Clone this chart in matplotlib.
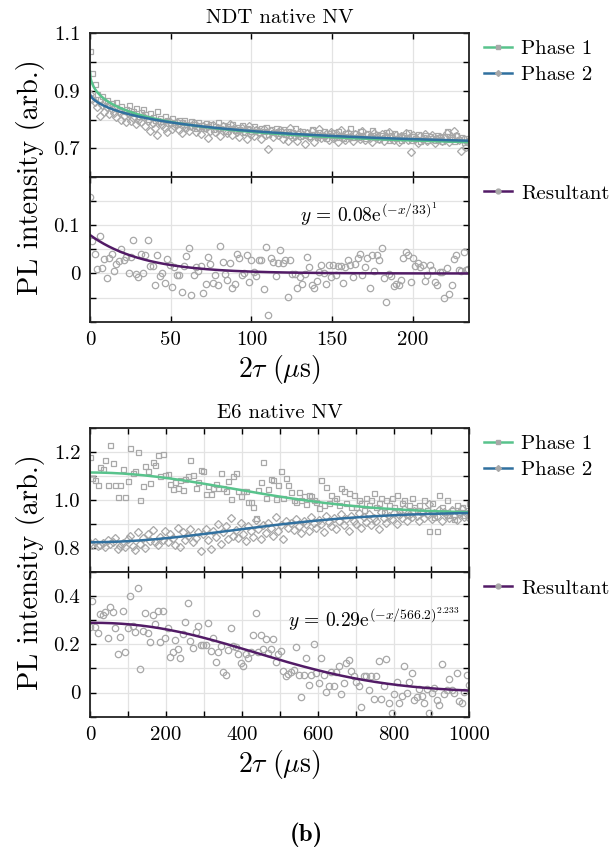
import numpy as np
import matplotlib
matplotlib.use("Agg")
import matplotlib.pyplot as plt
from matplotlib.lines import Line2D

plt.rcParams["font.family"] = ["cmr10", "DejaVu Serif"]
plt.rcParams["mathtext.fontset"] = "cm"
plt.rcParams["axes.formatter.use_mathtext"] = True

# ---------------- NDT native NV ----------------
ndt_phase1 = [
    1.039, 0.963, 0.924, 0.890, 0.872, 0.880, 0.862, 0.868, 0.852, 0.858,
    0.845, 0.862, 0.836, 0.848, 0.828, 0.835, 0.852, 0.822, 0.830, 0.840,
    0.812, 0.826, 0.835, 0.818, 0.803, 0.822, 0.810, 0.800, 0.828, 0.806,
    0.795, 0.812, 0.800, 0.788, 0.806, 0.792, 0.783, 0.800, 0.790, 0.798,
    0.785, 0.778, 0.795, 0.786, 0.770, 0.790, 0.780, 0.772, 0.788, 0.776,
    0.784, 0.768, 0.778, 0.790, 0.772, 0.780, 0.762, 0.776, 0.770, 0.785,
    0.764, 0.774, 0.768, 0.781, 0.758, 0.772, 0.766, 0.760, 0.777, 0.768,
    0.756, 0.770, 0.762, 0.775, 0.750, 0.766, 0.758, 0.772, 0.754, 0.762,
    0.768, 0.750, 0.762, 0.745, 0.758, 0.770, 0.752, 0.744, 0.760, 0.748,
    0.758, 0.742, 0.766, 0.750, 0.740, 0.756, 0.748, 0.760, 0.735, 0.752,
    0.745, 0.758, 0.740, 0.762, 0.748, 0.736, 0.755, 0.744, 0.770, 0.740,
    0.752, 0.738, 0.760, 0.745, 0.735, 0.754, 0.742, 0.765, 0.738, 0.750,
    0.732, 0.748, 0.740, 0.758, 0.730, 0.745, 0.752, 0.736, 0.742, 0.728,
    0.748, 0.738, 0.756, 0.730, 0.744, 0.735, 0.750, 0.726, 0.740, 0.746,
    0.730, 0.742, 0.736, 0.728, 0.748, 0.738, 0.725, 0.744, 0.760, 0.732,
    0.738, 0.726, 0.745, 0.732, 0.740, 0.722, 0.736, 0.730,
]
ndt_phase2 = [
    0.889, 0.872, 0.862, 0.845, 0.812, 0.850, 0.826, 0.842, 0.818, 0.835,
    0.822, 0.808, 0.830, 0.800, 0.812, 0.790, 0.818, 0.795, 0.805, 0.784,
    0.800, 0.790, 0.812, 0.779, 0.796, 0.760, 0.788, 0.771, 0.745, 0.792,
    0.782, 0.770, 0.756, 0.790, 0.768, 0.778, 0.792, 0.764, 0.752, 0.780,
    0.770, 0.760, 0.776, 0.788, 0.758, 0.774, 0.749, 0.778, 0.770, 0.737,
    0.762, 0.781, 0.756, 0.770, 0.742, 0.776, 0.764, 0.752, 0.784, 0.745,
    0.768, 0.757, 0.740, 0.772, 0.761, 0.733, 0.778, 0.750, 0.742, 0.765,
    0.756, 0.731, 0.769, 0.746, 0.697, 0.760, 0.738, 0.752, 0.748, 0.764,
    0.733, 0.755, 0.726, 0.770, 0.740, 0.744, 0.727, 0.758, 0.748, 0.716,
    0.752, 0.739, 0.760, 0.722, 0.746, 0.766, 0.735, 0.742, 0.751, 0.728,
    0.758, 0.736, 0.745, 0.722, 0.763, 0.741, 0.730, 0.752, 0.738, 0.727,
    0.750, 0.744, 0.733, 0.761, 0.728, 0.746, 0.737, 0.722, 0.755, 0.740,
    0.732, 0.749, 0.725, 0.744, 0.758, 0.735, 0.729, 0.748, 0.721, 0.743,
    0.737, 0.752, 0.728, 0.688, 0.746, 0.733, 0.720, 0.742, 0.731, 0.750,
    0.726, 0.739, 0.745, 0.718, 0.733, 0.741, 0.727, 0.736, 0.752, 0.722,
    0.735, 0.761, 0.742, 0.728, 0.692, 0.734, 0.705, 0.722,
]
ndt_resultant = [
    0.159, 0.068, 0.041, 0.010, 0.078, 0.012, 0.031, -0.009, 0.033, 0.041,
    0.005, 0.020, 0.026, 0.051, 0.029, 0.034, 0.000, 0.034, 0.069, -0.002,
    -0.008, 0.041, 0.002, 0.038, 0.069, 0.015, 0.015, -0.023, 0.038, -0.006,
    0.001, -0.020, 0.031, 0.017, -0.029, 0.013, -0.003, -0.003, -0.038, 0.015,
    0.036, 0.052, -0.044, -0.003, 0.013, 0.005, 0.015, -0.041, -0.022, 0.035,
    0.020, -0.020, -0.004, -0.024, 0.058, 0.023, -0.001, -0.013, 0.022, -0.031,
    -0.021, 0.040, 0.033, -0.003, 0.001, 0.038, -0.017, 0.029, 0.003, -0.006,
    0.029, 0.029, -0.032, 0.055, -0.086, 0.033, 0.024, -0.006,
    0.022, 0.048, 0.022, 0.027, -0.048, 0.027, -0.001, -0.001, -0.030, -0.008,
    -0.022, -0.002, 0.034, 0.013, -0.023, -0.031, -0.016, 0.003, 0.017, 0.001,
    -0.022, 0.017, -0.008, 0.017, -0.003, 0.015, 0.015, -0.020, 0.013, 0.029,
    0.017, -0.008, 0.020, 0.033, 0.041, -0.003, 0.013, 0.033, -0.030, 0.038,
    0.006, 0.038, 0.029, 0.054, -0.009, -0.059, -0.002, -0.006, -0.027, -0.022,
    -0.024, -0.013, 0.033, 0.045, 0.038, -0.017, 0.033, 0.016, 0.022, 0.013,
    0.017, -0.016, -0.003, 0.017, 0.008, -0.017, -0.024, 0.003, 0.003, -0.050,
    0.012, -0.043, -0.023, 0.031, 0.038, 0.008, 0.006, 0.045, 0.008, 0.010,
]
ndt_tmax = 234.4
# stretched-exponential fit parameters: offset, amplitude, tau, beta
ndt_fit_p1 = (0.690, 0.277, 50.0, 0.50)
ndt_fit_p2 = (0.700, 0.189, 81.0, 0.63)
ndt_fit_res = (0.08, 33.0, 1.0)

# ---------------- E6 native NV ----------------
e6_phase1 = [
    1.178, 1.093, 1.085, 1.065, 1.138, 1.131, 1.166, 1.065, 1.229, 1.155,
    1.062, 1.015, 1.065, 1.131, 1.015, 1.079, 1.215, 1.113, 1.121, 1.201,
    1.002, 1.057, 1.141, 1.121, 1.071, 1.159, 1.145, 1.187, 1.099, 1.192,
    1.103, 1.107, 1.068, 1.047, 1.075, 1.051, 1.082, 1.043, 1.089, 1.099,
    1.166, 1.103, 1.051, 1.075, 1.127, 1.121, 1.026, 1.057, 1.026, 1.051,
    1.068, 1.051, 1.113, 1.051, 1.040, 1.079, 1.005, 1.099, 1.113, 1.040,
    1.019, 1.040, 1.040, 0.991, 0.991, 0.970, 0.925, 1.043, 1.075, 1.159,
    1.009, 1.047, 1.089, 1.082, 1.005, 1.061, 1.121, 1.009, 1.093, 1.061,
    1.033, 1.001, 0.991, 1.033, 1.001, 1.019, 0.984, 1.023, 1.019, 1.001,
    0.991, 0.967, 1.082, 0.981,
    1.054, 0.990, 1.020, 1.000, 1.010, 0.980, 1.050, 1.040, 0.990, 1.030,
    0.970, 1.020, 0.970, 1.000, 0.990, 0.960, 1.010, 0.980, 1.000, 1.030,
    0.970, 0.990, 1.010, 0.950, 1.000, 0.980, 1.010, 0.970, 1.020, 0.960,
    0.990, 1.000, 0.940, 0.980, 1.010, 0.970, 0.960, 0.980, 0.950, 1.000,
    0.960, 0.870, 0.990, 0.930, 0.870, 1.020, 0.970, 0.950, 1.000, 0.940,
    0.960, 0.920, 0.980, 0.950, 0.970, 0.940, 0.960, 0.990,
]
e6_phase2 = [
    0.820, 0.812, 0.826, 0.808, 0.815, 0.822, 0.806, 0.835, 0.818, 0.828,
    0.842, 0.796, 0.810, 0.822, 0.805, 0.838, 0.852, 0.809, 0.793, 0.866,
    0.817, 0.843, 0.800, 0.858, 0.831, 0.875, 0.826, 0.812, 0.848, 0.836,
    0.870, 0.824, 0.859, 0.844, 0.812, 0.884, 0.805, 0.866, 0.833, 0.851,
    0.878, 0.826, 0.842, 0.868, 0.790, 0.858, 0.880, 0.835, 0.796, 0.872,
    0.846, 0.902, 0.816, 0.868, 0.892, 0.838, 0.925, 0.850, 0.876, 0.842,
    0.907, 0.860, 0.832, 0.894, 0.872, 0.848, 0.916, 0.878, 0.838, 0.896,
    0.862, 0.905, 0.884, 0.852, 0.928, 0.870, 0.898, 0.840, 0.912, 0.885,
    0.905, 0.876, 0.922, 0.893, 0.862, 0.913, 0.899, 0.870, 0.930, 0.905,
    0.885, 0.918, 0.902, 0.868, 0.936, 0.910, 0.893, 0.925, 0.880, 0.912,
    0.941, 0.897, 0.920, 0.872, 0.934, 0.915, 0.900, 0.948, 0.884, 0.928,
    0.910, 0.942, 0.895, 0.926, 0.915, 0.880, 0.951, 0.925, 0.904, 0.935,
    0.920, 0.948, 0.902, 0.938, 0.925, 0.965, 0.912, 0.940, 0.928, 0.955,
    0.932, 0.915, 0.950, 0.925, 0.942, 0.985, 0.920, 0.945, 0.935, 0.958,
    0.915, 0.950, 0.938, 0.925, 0.960, 0.935, 0.918, 0.948, 0.962, 0.930,
    0.942, 0.925,
]
e6_resultant = [
    0.274, 0.379, 0.274, 0.249, 0.326, 0.323, 0.336, 0.225, 0.354, 0.336,
    0.267, 0.161, 0.231, 0.340, 0.169, 0.269, 0.403, 0.277, 0.252, 0.434,
    0.097, 0.256, 0.331, 0.249, 0.211, 0.322, 0.284, 0.341, 0.211, 0.340,
    0.227, 0.269, 0.147, 0.169, 0.218, 0.182, 0.143, 0.242, 0.295, 0.372,
    0.214, 0.186, 0.253, 0.277, 0.196, 0.196, 0.196, 0.288, 0.172, 0.228,
    0.126, 0.169, 0.193, 0.084, 0.074, 0.175, 0.270, 0.192, 0.190, 0.162,
    0.123, 0.112, 0.162, 0.144, 0.168, 0.238, 0.330, 0.169, 0.238, 0.183,
    0.224, 0.165, 0.182, 0.224, 0.126, 0.162, 0.171, 0.088, 0.070, 0.078,
    0.087, 0.095, 0.190, 0.074, -0.017, 0.074, 0.144, 0.032, 0.074, 0.200,
    0.081, 0.039, 0.144, 0.074, 0.004, 0.028, 0.087, 0.028, 0.085, 0.112,
    -0.006, 0.039, 0.123, 0.137, 0.090, 0.067, 0.042, 0.028, -0.062, 0.067,
    0.070, 0.011, 0.067, -0.028, 0.070, 0.131, -0.028, 0.028, 0.140, -0.045,
    -0.084, -0.006, 0.042, -0.042, -0.014, 0.112, 0.000, 0.043, 0.081, -0.031,
    -0.020, 0.014, -0.014, -0.042, 0.014, -0.084, 0.000, 0.018, -0.031, -0.052,
    0.120, -0.006, 0.011, 0.056, 0.011, -0.003, 0.081, -0.034, -0.045, 0.004,
    0.074, 0.030,
]
e6_tmax = 1000.0
e6_fit_p1 = (0.945, 0.170, 530.0, 2.0)
e6_fit_p2 = (0.950, -0.125, 530.0, 2.0)
e6_fit_res = (0.29, 566.2, 2.233)

C_P1 = "#58c38c"
C_P2 = "#30709f"
C_RES = "#521b66"
C_PT = "#a8a8a8"
C_GRID = "#e3e3e3"


def stretched(x, c, a, tau, beta):
    return c + a * np.exp(-(x / tau) ** beta)


def style_axes(ax, xlim, ylim, xmajor, ymajor, ylabels):
    ax.set_xlim(*xlim)
    ax.set_ylim(*ylim)
    ax.set_xticks(xmajor)
    ax.set_yticks(ymajor)
    ax.set_yticklabels(ylabels)
    ax.grid(True, color=C_GRID, linewidth=0.9)
    ax.set_axisbelow(True)
    ax.tick_params(direction="in", top=True, right=True, length=4.5,
                   width=1.0, labelsize=15, pad=7)
    for s in ax.spines.values():
        s.set_linewidth(1.3)
        s.set_color("#222222")


def draw_group(fig, top, x_max, phase1, phase2, resultant, fit1, fit2,
               fitres, xlim, xticks, xlabels, ytop, ytop_ticks, ytop_labels,
               ybot, ybot_ticks, ybot_labels, title, eq_text, eq_xy, eq_size):
    left, width, h = 0.147, 0.620, 0.1670
    ax1 = fig.add_axes([left, top - h, width, h])
    ax2 = fig.add_axes([left, top - 2 * h, width, h])

    x = np.linspace(0, x_max, len(resultant))
    xf = np.linspace(xlim[0], xlim[1], 600)

    ax1.plot(x, phase1, ls="none", marker="s", ms=3.6, mfc="none", mec=C_PT,
             mew=0.9)
    ax1.plot(x, phase2, ls="none", marker="D", ms=3.8, mfc="none", mec=C_PT,
             mew=0.9)
    ax1.plot(xf, stretched(xf, *fit1), color=C_P1, lw=1.8)
    ax1.plot(xf, stretched(xf, *fit2), color=C_P2, lw=1.8)

    ax2.plot(x, resultant, ls="none", marker="o", ms=4.6, mfc="none",
             mec=C_PT, mew=0.9)
    a, tau, beta = fitres
    ax2.plot(xf, a * np.exp(-(xf / tau) ** beta), color=C_RES, lw=1.8)

    style_axes(ax1, xlim, ytop, xticks, ytop_ticks, ytop_labels)
    style_axes(ax2, xlim, ybot, xticks, ybot_ticks, ybot_labels)
    ax1.tick_params(labelbottom=False)
    ax2.set_xticklabels(xlabels)
    ax2.set_xlabel(r"$2\tau\ (\mu\mathrm{s})$", fontsize=20, labelpad=3)
    ax1.set_title(title, fontsize=15, pad=7)
    ax2.text(eq_xy[0], eq_xy[1], eq_text, fontsize=eq_size, ha="left",
             va="center")

    leg_kw = dict(loc="upper left", frameon=False, fontsize=15,
                  handlelength=1.35, handletextpad=0.42, numpoints=1,
                  borderaxespad=0.0)
    leg_top = [
        Line2D([0], [0], color=C_P1, lw=1.8, marker="s", ms=3, mfc=C_PT,
               mec=C_PT),
        Line2D([0], [0], color=C_P2, lw=1.8, marker="D", ms=3, mfc=C_PT,
               mec=C_PT),
    ]
    ax1.legend(leg_top, ["Phase 1", "Phase 2"],
               bbox_to_anchor=(1.017, 1.01), labelspacing=0.35, **leg_kw)
    leg_bot = [Line2D([0], [0], color=C_RES, lw=1.8, marker="o", ms=3.5,
                      mfc=C_PT, mec=C_PT)]
    ax2.legend(leg_bot, ["Resultant"], bbox_to_anchor=(1.017, 1.01),
               **leg_kw)

    ymid = top - h
    fig.text(0.050, ymid, "PL intensity (arb.)", rotation=90, ha="center",
             va="center", fontsize=20.5)
    return ax1, ax2


fig = plt.figure(figsize=(6.12, 8.64), dpi=100)

draw_group(
    fig, 1 - 33 / 864, ndt_tmax, ndt_phase1, ndt_phase2, ndt_resultant,
    ndt_fit_p1, ndt_fit_p2, ndt_fit_res,
    (0, 235), [0, 50, 100, 150, 200], ["0", "50", "100", "150", "200"],
    (0.6, 1.1), [0.6, 0.7, 0.8, 0.9, 1.0, 1.1],
    ["", "0.7", "", "0.9", "", "1.1"],
    (-0.1, 0.2), [-0.1, -0.05, 0, 0.05, 0.1, 0.15, 0.2],
    ["", "", "0", "", "0.1", "", ""],
    "NDT native NV",
    r"$y\,=\,0.08\mathrm{e}^{(\mathrm{-}x/33)^{1}}$", (130, 0.124), 14,
)

draw_group(
    fig, 1 - 428 / 864, e6_tmax, e6_phase1, e6_phase2, e6_resultant,
    e6_fit_p1, e6_fit_p2, e6_fit_res,
    (0, 1000), list(range(0, 1001, 100)),
    ["0", "", "200", "", "400", "", "600", "", "800", "", "1000"],
    (0.7, 1.3), [0.7, 0.8, 0.9, 1.0, 1.1, 1.2, 1.3],
    ["", "0.8", "", "1.0", "", "1.2", ""],
    (-0.1, 0.5), [-0.1, 0, 0.1, 0.2, 0.3, 0.4, 0.5],
    ["", "0", "", "0.2", "", "0.4", ""],
    "E6 native NV",
    r"$y\,=\,0.29\mathrm{e}^{(\mathrm{-}x/566.2)^{2.233}}$", (522, 0.305), 14,
)

fig.text(0.500, 1 - 835 / 864, "(b)", fontsize=18, fontweight="bold",
         family=["cmb10", "DejaVu Serif"], ha="center", va="center")

fig.savefig("out.png", dpi=100)
